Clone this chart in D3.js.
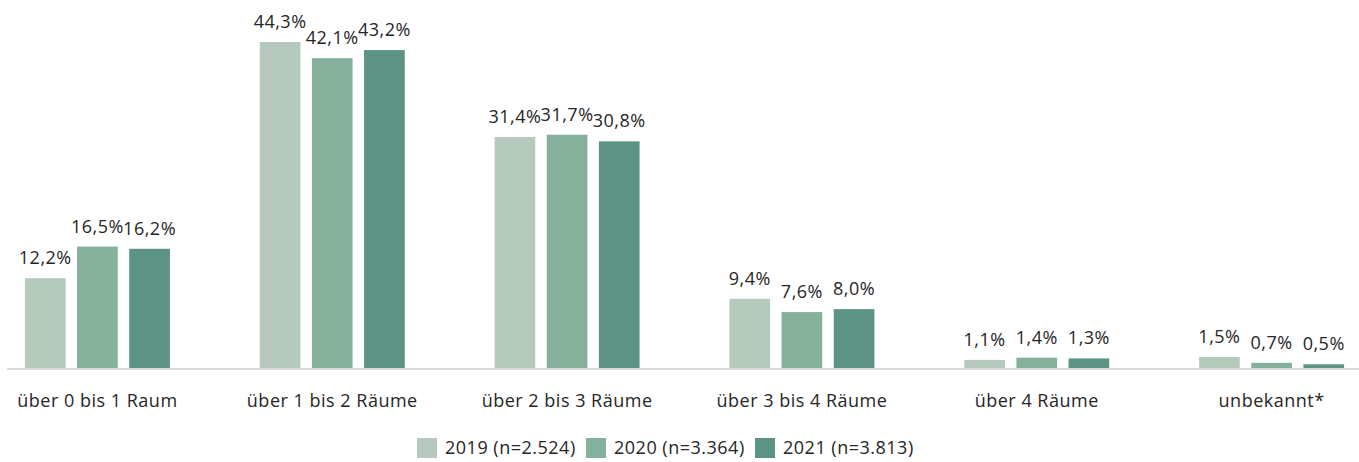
<!DOCTYPE html>
<html>
<head>
<meta charset="utf-8">
<script src="https://cdn.jsdelivr.net/npm/d3@7"></script>
<style>
  body { margin: 0; background: #fff; }
  svg { display: block; }
  .lbl { font-family: "Open Sans", sans-serif; font-size: 18px; fill: #262626; letter-spacing: 0.5px; }
</style>
</head>
<body>
<div id="svg-container"></div>
<script>
// data
const categories = ["über 0 bis 1 Raum", "über 1 bis 2 Räume", "über 2 bis 3 Räume", "über 3 bis 4 Räume", "über 4 Räume", "unbekannt*"];
const seriesNames = ["2019 (n=2.524)", "2020 (n=3.364)", "2021 (n=3.813)"];
const values2019 = [12.2, 44.3, 31.4, 9.4, 1.1, 1.5];
const values2020 = [16.5, 42.1, 31.7, 7.6, 1.4, 0.7];
const values2021 = [16.2, 43.2, 30.8, 8.0, 1.3, 0.5];
const colors = ["#b5c9bd", "#85b09c", "#5c9384"];

const width = 1359, height = 462;
const baseY = 368;

const svg = d3.select("#svg-container").append("svg")
  .attr("width", width).attr("height", height);

const series = [values2019, values2020, values2021];

// scales
const x0 = d3.scaleBand().domain(categories).range([-20, 1389]).paddingInner(0).paddingOuter(0);
const x1 = d3.scaleBand().domain([0, 1, 2]).range([x0.bandwidth() / 2 - 72.5, x0.bandwidth() / 2 + 72.5]).paddingInner(0.22);
const y = d3.scaleLinear().domain([0, 44.3]).range([baseY, 42]);

// bars
const groups = svg.selectAll("g.grp").data(categories).enter().append("g")
  .attr("class", "grp")
  .attr("transform", d => `translate(${x0(d)},0)`);

groups.each(function (cat, ci) {
  const g = d3.select(this);
  series.forEach((vals, si) => {
    const v = vals[ci];
    g.append("rect")
      .attr("x", x1(si))
      .attr("y", y(v))
      .attr("width", x1.bandwidth())
      .attr("height", baseY - y(v))
      .attr("fill", colors[si]);
    g.append("text")
      .attr("class", "lbl")
      .attr("x", x1(si) + x1.bandwidth() / 2)
      .attr("y", y(v) - 14)
      .attr("text-anchor", "middle")
      .text(v.toFixed(1).replace(".", ",") + "%");
  });
});

// axis line
svg.append("line")
  .attr("x1", 7).attr("x2", width)
  .attr("y1", baseY + 1).attr("y2", baseY + 1)
  .attr("stroke", "#d9d9d9").attr("stroke-width", 2);

// category labels
const xAxis = d3.axisBottom(x0).tickSize(0).tickPadding(0);
const ax = svg.append("g").attr("transform", `translate(0,${baseY + 26})`).call(xAxis);
ax.attr("font-family", null).attr("font-size", null);
ax.select(".domain").remove();
ax.selectAll("text").attr("class", "lbl").attr("fill", null);

// legend
const legendX = [417, 586, 755];
const legend = svg.selectAll("g.leg").data(seriesNames).enter().append("g")
  .attr("class", "leg")
  .attr("transform", (d, i) => `translate(${legendX[i]},438)`);
legend.append("rect").attr("width", 20).attr("height", 20).attr("fill", (d, i) => colors[i]);
legend.append("text").attr("class", "lbl").attr("x", 28).attr("y", 16).text(d => d);
</script>
</body>
</html>
